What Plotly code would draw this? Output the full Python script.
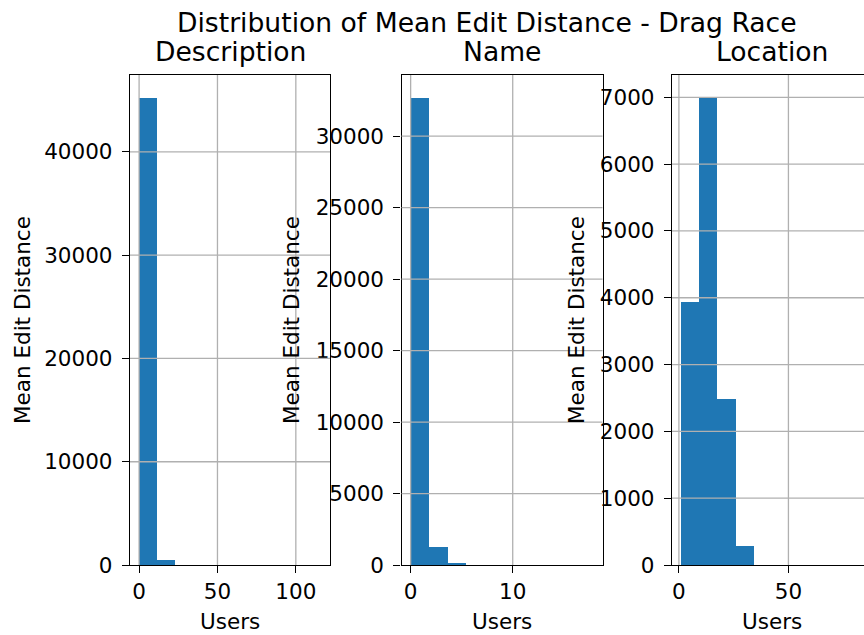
import numpy as np
import plotly.graph_objects as go

# ---------------- data ----------------
suptitle = "Distribution of Mean Edit Distance - Drag Race"
panel_titles = ["Description", "Name", "Location"]
x_label = "Users"
y_label = "Mean Edit Distance"

desc_edges = [0.0, 11.6, 23.2, 34.8, 46.4, 58.0, 69.6, 81.2, 92.8, 104.4, 116.0]
desc_counts = [45190, 480, 0, 0, 0, 0, 0, 0, 0, 0]

name_edges = [0.0, 1.79, 3.58, 5.37, 7.16, 8.95, 10.74, 12.53, 14.32, 16.11, 17.9]
name_counts = [32650, 1280, 160, 0, 0, 0, 0, 0, 0, 0]

loc_edges = [1.0, 9.3, 17.6, 25.9, 34.2, 42.5, 50.8, 59.1, 67.4, 75.7, 84.0]
loc_counts = [3940, 6985, 2485, 290, 0, 0, 0, 0, 0, 0]

desc_xticks = [0, 50, 100]
name_xticks = [0, 10]
loc_xticks = [0, 50]
desc_yticks = [0, 10000, 20000, 30000, 40000]
name_yticks = [0, 5000, 10000, 15000, 20000, 25000, 30000]
loc_yticks = [0, 1000, 2000, 3000, 4000, 5000, 6000, 7000]

# ---------------- layout geometry ----------------
W, H = 864, 635          # reference picture size (positions below are in its pixels)
H_FIG = 648              # figure height that photographs as H tall
BAR = "#1f77b4"
GRID = "#b0b0b0"
FONT = "DejaVu Sans"
TICK_SIZE = 21.5
TITLE_SIZE = 26.6

def px(x):
    return x / W

def py(y):
    return 1 - y / H

# axes pixel boxes (left, right); the third one runs past the window edge
boxes = [(130, 330), (401.5, 602.5), (672, 872)]
top_px, bot_px = 75, 565

panels = [
    (desc_edges, desc_counts, desc_xticks, desc_yticks),
    (name_edges, name_counts, name_xticks, name_yticks),
    (loc_edges, loc_counts, loc_xticks, loc_yticks),
]

fig = go.Figure()
shapes = []
annotations = []

for i, (edges, counts, xt, yt) in enumerate(panels):
    n = i + 1
    xa = "x" if n == 1 else f"x{n}"
    ya = "y" if n == 1 else f"y{n}"
    e = np.array(edges, dtype=float)
    widths = np.diff(e)
    fig.add_trace(go.Bar(
        x=e[:-1], y=counts, width=widths, offset=0,
        marker=dict(color=BAR, line=dict(width=0)),
        xaxis=xa, yaxis=ya, showlegend=False, hoverinfo="x+y",
    ))
    lo, hi = e[0], e[-1]
    span = hi - lo
    xr = [lo - 0.05 * span, hi + 0.05 * span]
    l, r = boxes[i]
    d0 = px(l)
    d1 = px(r)
    if d1 > 1:
        # clip axis at the window edge, keeping the same scale
        xr = [xr[0], xr[0] + (xr[1] - xr[0]) * (W - l) / (r - l)]
        d1 = 1.0
    yr = [0, 1.05 * max(counts)]
    common = dict(
        showline=True, linecolor="black", linewidth=1.3,
        ticks="outside", ticklen=7, tickwidth=1.3, tickcolor="black",
        showgrid=False, zeroline=False,
        tickfont=dict(family=FONT, size=TICK_SIZE, color="black"),
        layer="above traces",
    )
    fig.update_layout(**{
        ("xaxis" if n == 1 else f"xaxis{n}"): dict(
            domain=[d0, d1], range=xr, anchor=ya, tickmode="array",
            tickvals=xt, ticktext=[str(v) for v in xt], mirror=True, **common),
        ("yaxis" if n == 1 else f"yaxis{n}"): dict(
            domain=[py(bot_px), py(top_px)], range=yr, anchor=xa, tickmode="array",
            tickvals=yt, ticktext=[str(v) for v in yt], ticklabelstandoff=5,
            mirror=(n != 3), **common),
    })
    # grid lines drawn above the bars (as matplotlib does)
    for v in xt:
        shapes.append(dict(type="line", xref=xa, yref=f"{ya} domain", x0=v, x1=v,
                           y0=0, y1=1, line=dict(color=GRID, width=1.3), layer="above"))
    for v in yt:
        if v == 0:
            continue
        shapes.append(dict(type="line", xref=f"{xa} domain", yref=ya, x0=0, x1=1,
                           y0=v, y1=v, line=dict(color=GRID, width=1.3), layer="above"))
    cx = (l + r) / 2
    annotations.append(dict(text=panel_titles[i], xref="paper", yref="paper",
                            x=px(cx), y=py(51), xanchor="center", yanchor="middle",
                            showarrow=False, font=dict(family=FONT, size=TITLE_SIZE, color="black")))
    annotations.append(dict(text=x_label, xref="paper", yref="paper",
                            x=px(cx), y=py(621), xanchor="center", yanchor="middle",
                            showarrow=False, font=dict(family=FONT, size=TICK_SIZE, color="black")))

for xc in [22, 291, 576]:
    annotations.append(dict(text=y_label, xref="paper", yref="paper",
                            x=px(xc), y=py(320), xanchor="center", yanchor="middle",
                            textangle=-90, showarrow=False,
                            font=dict(family=FONT, size=TICK_SIZE, color="black")))

annotations.append(dict(text=suptitle, xref="paper", yref="paper",
                        x=px(487), y=py(22), xanchor="center", yanchor="middle",
                        showarrow=False, font=dict(family=FONT, size=TITLE_SIZE, color="black")))

fig.update_layout(
    width=W, height=H_FIG,
    margin=dict(l=0, r=0, t=0, b=0),
    paper_bgcolor="white", plot_bgcolor="white",
    bargap=0, shapes=shapes, annotations=annotations,
    font=dict(family=FONT, color="black"),
)

fig.write_html(
    "out.html",
    config={"displayModeBar": False},
    post_script=(
        "var gd=document.getElementById('{plot_id}');"
        "gd.style.position='fixed';gd.style.top='0';gd.style.left='0';"
        "document.body.style.margin='0';document.body.style.overflow='hidden';"
        "document.documentElement.style.overflow='hidden';"
    ),
)
